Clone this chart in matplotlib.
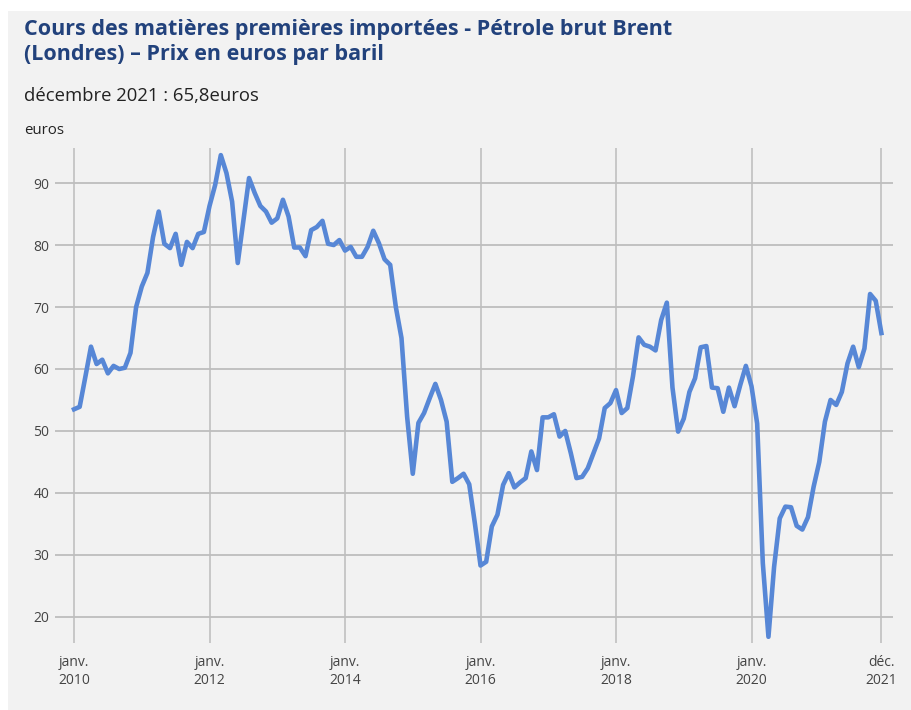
import numpy as np
import matplotlib.pyplot as plt
from matplotlib.patches import Rectangle

plt.rcParams['font.family'] = ['Open Sans', 'DejaVu Sans']

# Brent en euros par baril, mensuel, janv. 2010 -> déc. 2021
prix_2010 = [53.5, 53.9, 58.7, 63.6, 60.8, 61.5, 59.3, 60.5, 60.0, 60.2, 62.6, 70.0]
prix_2011 = [73.3, 75.5, 81.3, 85.4, 80.2, 79.5, 81.8, 76.8, 80.5, 79.5, 81.8, 82.1]
prix_2012 = [86.3, 89.7, 94.5, 91.6, 87.0, 77.1, 84.0, 90.8, 88.4, 86.3, 85.4, 83.6]
prix_2013 = [84.3, 87.3, 84.6, 79.6, 79.6, 78.2, 82.4, 82.9, 83.9, 80.2, 80.0, 80.8]
prix_2014 = [79.1, 79.7, 78.1, 78.1, 79.7, 82.3, 80.3, 77.7, 76.8, 70.0, 65.0, 52.3]
prix_2015 = [43.1, 51.3, 52.9, 55.3, 57.6, 55.0, 51.5, 41.8, 42.4, 43.1, 41.4, 35.1]
prix_2016 = [28.3, 28.9, 34.6, 36.5, 41.3, 43.2, 40.9, 41.7, 42.4, 46.7, 43.7, 52.2]
prix_2017 = [52.2, 52.7, 49.1, 50.0, 46.4, 42.4, 42.6, 44.0, 46.4, 48.8, 53.7, 54.5]
prix_2018 = [56.6, 52.9, 53.7, 58.8, 65.1, 63.9, 63.6, 63.0, 67.9, 70.7, 57.0, 49.9]
prix_2019 = [52.0, 56.3, 58.5, 63.5, 63.7, 57.0, 56.9, 53.1, 57.0, 54.0, 57.4, 60.5]
prix_2020 = [57.2, 51.2, 28.7, 16.8, 28.1, 35.9, 37.8, 37.7, 34.7, 34.1, 36.1, 41.0]
prix_2021 = [45.0, 51.5, 55.0, 54.2, 56.3, 60.9, 63.6, 60.3, 63.3, 72.1, 71.0, 65.8]

prix = (prix_2010 + prix_2011 + prix_2012 + prix_2013 + prix_2014 + prix_2015
        + prix_2016 + prix_2017 + prix_2018 + prix_2019 + prix_2020 + prix_2021)

tick_mois = [0, 24, 48, 72, 96, 120, 143]
tick_labels = ['janv.\n2010', 'janv.\n2012', 'janv.\n2014', 'janv.\n2016',
               'janv.\n2018', 'janv.\n2020', 'déc.\n2021']
y_ticks = [20, 30, 40, 50, 60, 70, 80, 90]

fig = plt.figure(figsize=(9.12, 7.10), dpi=100, facecolor='white')
# panneau gris de fond
fig.patches.append(Rectangle((8 / 912, 0), 1, (710 - 11) / 710, transform=fig.transFigure,
                             facecolor='#f2f2f2', edgecolor='none', zorder=0))

ax = fig.add_axes([55 / 912, 67 / 710, 838 / 912, 495 / 710])
ax.set_zorder(2)
ax.patch.set_visible(False)

x = np.arange(len(prix))
ax.plot(x, prix, color='#5787d6', lw=3.3, solid_joinstyle='round', zorder=3)

ax.set_xlim(-3.37, 145.06)
ax.set_ylim(15.8, 95.65)
ax.set_xticks(tick_mois)
ax.set_xticklabels(tick_labels)
ax.set_yticks(y_ticks)
ax.grid(axis='y', color='#bdbdbd', lw=1.3)
ax.grid(axis='x', color='#c4c4c4', lw=1.3)
for s in ax.spines.values():
    s.set_visible(False)
ax.tick_params(axis='both', length=0, labelsize=10, colors='#444444')
ax.tick_params(axis='y', pad=4)
ax.tick_params(axis='x', pad=9)
for lab in ax.get_xticklabels():
    lab.set_linespacing(1.2)

fig.text(24 / 912, 1 - 19 / 710,
         'Cours des matières premières importées - Pétrole brut Brent\n(Londres) – Prix en euros par baril',
         fontsize=15.5, fontweight='bold', color='#22427c', va='top', ha='left', linespacing=1.28)
fig.text(24 / 912, 1 - 96 / 710, 'décembre 2021 : 65,8euros', fontsize=13.3,
         color='#222222', va='center', ha='left')
fig.text(24 / 912, 1 - 130 / 710, 'euros', fontsize=10.8, color='#222222', va='center', ha='left')

fig.savefig('out.png', dpi=100, facecolor='white')
